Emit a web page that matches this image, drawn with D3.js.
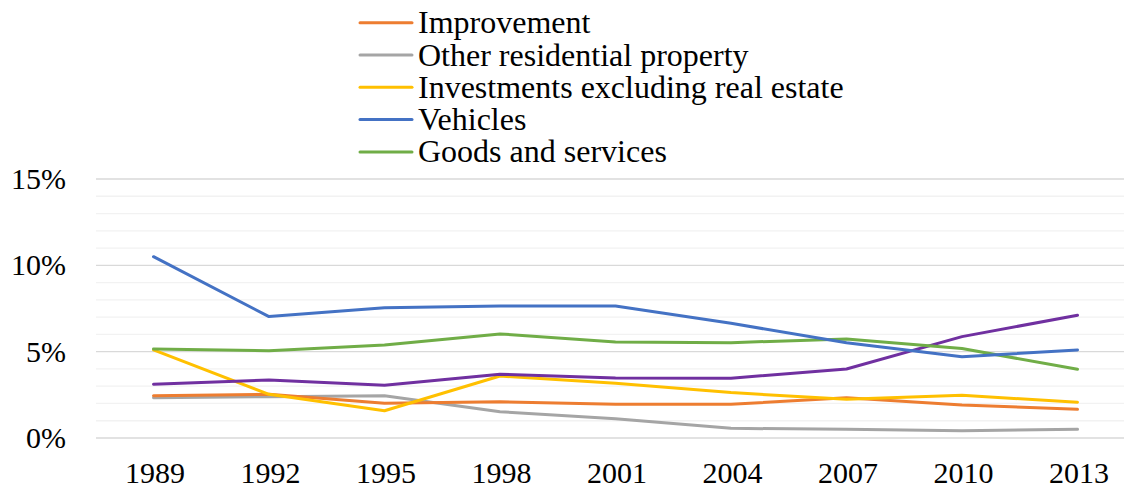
<!DOCTYPE html>
<html>
<head>
<meta charset="utf-8">
<script src="https://cdn.jsdelivr.net/npm/d3@7"></script>
<style>
  html, body { margin: 0; padding: 0; background: #fff; }
  svg { display: block; }
</style>
</head>
<body>
<svg id="chart" width="1129" height="491"></svg>
<script>
const years = ["1989","1992","1995","1998","2001","2004","2007","2010","2013"];
const yTicks = [0, 5, 10, 15];
const improvement   = [2.45, 2.53, 2.01, 2.10, 1.95, 1.95, 2.33, 1.91, 1.66];
const otherResid    = [2.33, 2.39, 2.45, 1.52, 1.12, 0.56, 0.50, 0.42, 0.50];
const investments   = [5.10, 2.53, 1.58, 3.59, 3.17, 2.63, 2.24, 2.47, 2.07];
const vehicles      = [10.50, 7.03, 7.55, 7.65, 7.65, 6.64, 5.52, 4.71, 5.10];
const goods         = [5.16, 5.06, 5.39, 6.03, 5.56, 5.52, 5.74, 5.18, 3.98];
const unlabeled     = [3.11, 3.36, 3.05, 3.69, 3.48, 3.46, 4.00, 5.87, 7.11];

const series = [
  { name: "Improvement", values: improvement, color: "#ED7D31", legend: true },
  { name: "Other residential property", values: otherResid, color: "#A5A5A5", legend: true },
  { name: "Investments excluding real estate", values: investments, color: "#FFC000", legend: true },
  { name: "Vehicles", values: vehicles, color: "#4472C4", legend: true },
  { name: "Goods and services", values: goods, color: "#70AD47", legend: true },
  { name: "Other", values: unlabeled, color: "#7030A0", legend: false }
];

const FONT = "Liberation Serif";
const svg = d3.select("#chart");
const gridLeft = 96, gridRight = 1124;
const x = d3.scalePoint().domain(years).range([153.5, 1077.5]);
const y = d3.scaleLinear().domain([0, 15]).range([438, 179]);

// minor gridlines
svg.append("g").selectAll("line")
  .data(d3.range(0, 16, 1).filter(v => v % 5 !== 0))
  .join("line")
  .attr("x1", gridLeft).attr("x2", gridRight)
  .attr("y1", d => y(d)).attr("y2", d => y(d))
  .attr("stroke", "#F2F2F2").attr("stroke-width", 1.3);

// major gridlines
svg.append("g").selectAll("line")
  .data(yTicks)
  .join("line")
  .attr("x1", gridLeft).attr("x2", gridRight)
  .attr("y1", d => y(d)).attr("y2", d => y(d))
  .attr("stroke", "#D9D9D9").attr("stroke-width", 1.3);

// y axis labels
const yAxis = svg.append("g")
  .attr("transform", `translate(66,0)`)
  .call(d3.axisLeft(y).tickValues(yTicks).tickFormat(d => d + "%").tickSize(0).tickPadding(0));
yAxis.attr("font-family", null);
yAxis.select(".domain").remove();
yAxis.selectAll("text").attr("font-size", 30).style("font-family", FONT).attr("fill", "#000");

// x axis labels
const xAxis = svg.append("g")
  .attr("transform", `translate(1,462)`)
  .call(d3.axisBottom(x).tickSize(0).tickPadding(0));
xAxis.attr("font-family", null);
xAxis.select(".domain").remove();
xAxis.selectAll("text").attr("font-size", 30).style("font-family", FONT).attr("fill", "#000");

// lines
const line = d3.line().x((d, i) => x(years[i])).y(d => y(d));
const drawOrder = [1, 0, 2, 5, 4, 3];
svg.append("g").selectAll("path")
  .data(drawOrder.map(i => series[i]))
  .join("path")
  .attr("d", d => line(d.values))
  .attr("fill", "none")
  .attr("stroke", d => d.color)
  .attr("stroke-width", 3)
  .attr("stroke-linejoin", "round")
  .attr("stroke-linecap", "round");

// legend
const leg = svg.append("g");
const legItems = leg.selectAll("g")
  .data(series.filter(s => s.legend))
  .join("g")
  .attr("transform", (d, i) => `translate(0, ${22.7 + i * 32.3})`);
legItems.append("line")
  .attr("x1", 360).attr("x2", 412)
  .attr("stroke", d => d.color).attr("stroke-width", 3).attr("stroke-linecap", "round");
legItems.append("text")
  .attr("x", 418).attr("y", 0).attr("dy", "0.33em")
  .attr("font-size", 32).style("font-family", FONT).attr("fill", "#000")
  .text(d => d.name);
</script>
</body>
</html>
